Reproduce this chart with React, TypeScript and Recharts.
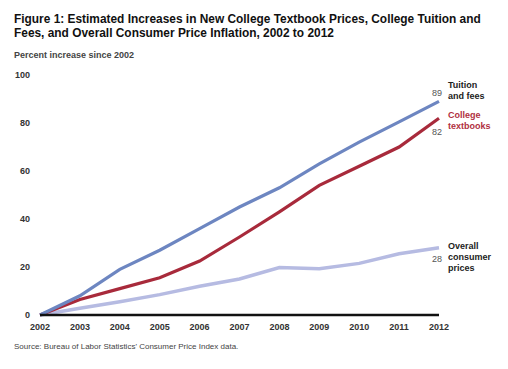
import React from "react";
import { LineChart, Line, XAxis, YAxis } from "recharts";

const years = [2002, 2003, 2004, 2005, 2006, 2007, 2008, 2009, 2010, 2011, 2012];
const tuition = [0, 8, 19, 27, 36, 45, 53, 63, 72, 80.5, 89];
const textbooks = [0, 6.5, 11, 15.5, 22.5, 32.5, 43, 54, 62, 70, 82];
const consumer = [0, 2.8, 5.5, 8.5, 12, 15, 19.8, 19.3, 21.5, 25.5, 28];
const yTicks = [0, 20, 40, 60, 80, 100];

const data = years.map((y, i) => ({
  year: String(y),
  tuition: tuition[i],
  textbooks: textbooks[i],
  consumer: consumer[i],
}));

const FONT = "'Liberation Sans', Arial, Helvetica, sans-serif";
const BLUE = "#6d86c1";
const RED = "#a82a3b";
const LIGHT = "#b6bbe2";

const makeLabel =
  (valueText: string, valueDy: number, names: string[], nameStart: number, color: string) =>
  (props: any) => {
    const { x, y, index } = props;
    if (index !== years.length - 1) return null;
    return (
      <g>
        <text x={x - 2} y={y + valueDy} textAnchor="middle" fontSize={9} fill="#555" fontFamily={FONT} dominantBaseline="central">
          {valueText}
        </text>
        {names.map((n, k) => (
          <text key={k} x={x + 9} y={y + nameStart + k * 10.8} fontSize={9} fontWeight="bold" fill={color} fontFamily={FONT} dominantBaseline="central">
            {n}
          </text>
        ))}
      </g>
    );
  };

export default function App() {
  return (
    <div style={{ position: "absolute", left: 0, top: 0, width: 508, height: 369, background: "#fff", fontFamily: FONT }}>
      <div style={{ position: "absolute", left: 14, top: 13, fontSize: 11.9, fontWeight: "bold", lineHeight: "13.5px", color: "#111", whiteSpace: "nowrap" }}>
        Figure 1: Estimated Increases in New College Textbook Prices, College Tuition and
        <br />
        Fees, and Overall Consumer Price Inflation, 2002 to 2012
      </div>
      <div style={{ position: "absolute", left: 14, top: 50, fontSize: 9, fontWeight: "bold", color: "#444", whiteSpace: "nowrap" }}>
        Percent increase since 2002
      </div>
      <div style={{ position: "absolute", left: 14, top: 342, fontSize: 8, color: "#444", whiteSpace: "nowrap" }}>
        Source: Bureau of Labor Statistics' Consumer Price Index data.
      </div>
      <div style={{ position: "absolute", left: 0, top: 0 }}>
        <LineChart width={508} height={369} data={data} margin={{ top: 75, right: 69, bottom: 34, left: 10 }}>
          <XAxis
            dataKey="year"
            height={20}
            axisLine={{ stroke: "#111", strokeWidth: 2.5 }}
            tickLine={false}
            tickMargin={3}
            interval={0}
            tick={{ fontSize: 9, fontWeight: "bold", fill: "#333", fontFamily: FONT }}
          />
          <YAxis
            width={30}
            domain={[0, 100]}
            ticks={yTicks}
            axisLine={false}
            tickLine={false}
            tickMargin={4}
            tick={{ fontSize: 9, fontWeight: "bold", fill: "#333", fontFamily: FONT }}
          />
          <Line
            dataKey="consumer"
            stroke={LIGHT}
            strokeWidth={3.5}
            dot={false}
            isAnimationActive={false}
            label={makeLabel("28", 11, ["Overall", "consumer", "prices"], -1.6, "#222")}
          />
          <Line
            dataKey="textbooks"
            stroke={RED}
            strokeWidth={3.2}
            dot={false}
            isAnimationActive={false}
            label={makeLabel("82", 14, ["College", "textbooks"], -3.3, "#b0303f")}
          />
          <Line
            dataKey="tuition"
            stroke={BLUE}
            strokeWidth={3.2}
            dot={false}
            isAnimationActive={false}
            label={makeLabel("89", -8.5, ["Tuition", "and fees"], -16, "#222")}
          />
        </LineChart>
      </div>
    </div>
  );
}
